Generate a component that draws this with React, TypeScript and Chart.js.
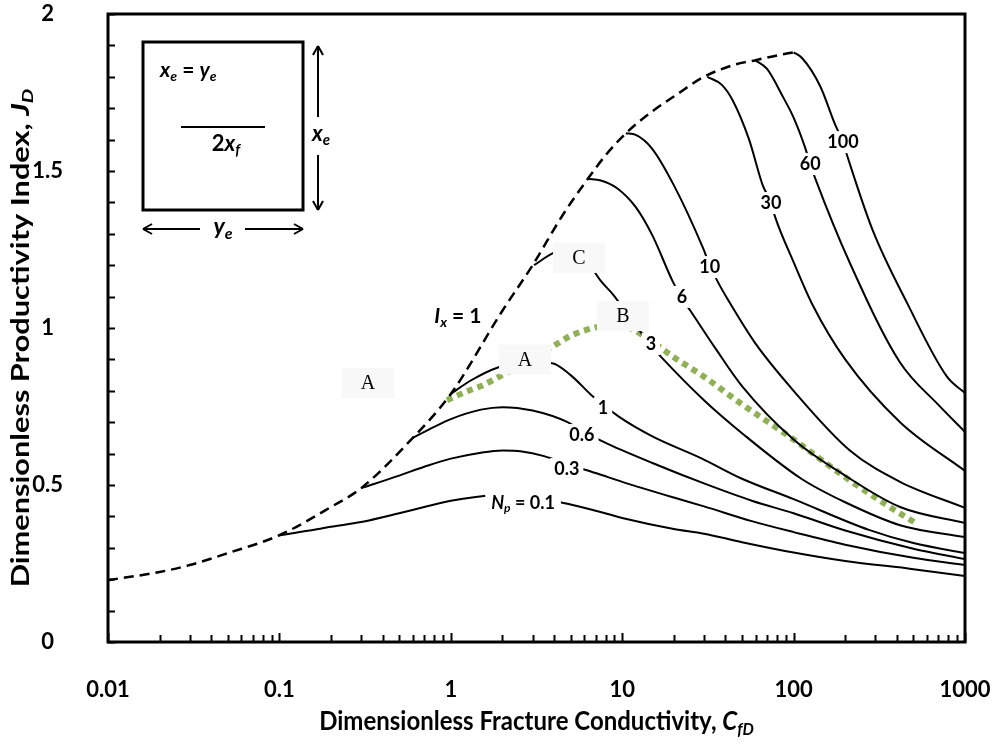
import React, { useEffect, useRef } from "react";
import { Chart, registerables } from "chart.js";
Chart.register(...registerables);

const FONT = "Lato";

// x-axis tick labels (decades) and y ticks
const xTickValues = [0.01, 0.1, 1, 10, 100, 1000];
const yMinorStep = 0.1;

// Ix = 1 envelope (dashed)
const envX = [0.01, 0.02, 0.03, 0.05, 0.1, 0.2, 0.3, 0.6, 1, 2, 3, 4.5, 6.3, 8, 10.5, 15, 20, 30, 45, 60, 80, 100];
const envY = [0.197, 0.223, 0.245, 0.283, 0.34, 0.43, 0.49, 0.65, 0.79, 1.055, 1.2, 1.36, 1.475, 1.55, 1.62, 1.69, 1.737, 1.8, 1.838, 1.853, 1.868, 1.878];

// Np curves
const np01X = [0.1, 0.15, 0.2, 0.3, 0.5, 0.7, 1, 1.4, 2, 3, 5, 7, 10, 20, 30, 50, 100, 200, 500, 1000];
const np01Y = [0.34, 0.355, 0.367, 0.382, 0.41, 0.43, 0.45, 0.462, 0.468, 0.462, 0.438, 0.418, 0.395, 0.36, 0.345, 0.318, 0.285, 0.258, 0.232, 0.21];

const np03X = [0.3, 0.5, 0.7, 1, 1.5, 2, 2.6, 3.5, 5, 7, 10, 20, 30, 57, 100, 200, 500, 1000];
const np03Y = [0.49, 0.53, 0.558, 0.584, 0.603, 0.61, 0.607, 0.592, 0.563, 0.538, 0.51, 0.46, 0.432, 0.385, 0.35, 0.31, 0.268, 0.245];

const np06X = [0.6, 0.8, 1, 1.5, 2, 3, 4.8, 6, 8.3, 15, 30, 57, 100, 200, 500, 1000];
const np06Y = [0.65, 0.685, 0.71, 0.74, 0.748, 0.737, 0.7, 0.668, 0.63, 0.57, 0.505, 0.45, 0.41, 0.355, 0.297, 0.264];

const np1X = [1, 1.3, 1.9, 2.7, 3.9, 5, 6.8, 9.6, 15, 29, 50, 100, 275, 500, 1000];
const np1Y = [0.79, 0.832, 0.875, 0.892, 0.888, 0.85, 0.78, 0.717, 0.655, 0.585, 0.52, 0.455, 0.357, 0.315, 0.283];

const np3X = [3.06, 4, 5, 6, 7.5, 8.9, 11, 14.7, 17.4, 30, 50, 111, 200, 418, 1000];
const np3Y = [1.2, 1.24, 1.252, 1.225, 1.15, 1.105, 1.035, 0.945, 0.9, 0.77, 0.665, 0.52, 0.445, 0.372, 0.334];

const np6X = [6.3, 7.5, 9.3, 12, 15, 19.8, 22.3, 25, 35, 50, 100, 200, 418, 1000];
const np6Y = [1.475, 1.47, 1.446, 1.385, 1.295, 1.146, 1.095, 1.055, 0.935, 0.815, 0.645, 0.53, 0.43, 0.379];

const np10X = [10.5, 12, 15, 20, 29.6, 32.4, 36.2, 41.4, 60, 100, 213, 418, 1000];
const np10Y = [1.62, 1.615, 1.57, 1.455, 1.255, 1.2, 1.146, 1.09, 0.95, 0.8, 0.61, 0.51, 0.427];

const np30X = [31.4, 38, 44, 55, 66, 73.8, 78, 100, 130, 200, 418, 1000];
const np30Y = [1.8, 1.775, 1.726, 1.6, 1.455, 1.4, 1.354, 1.21, 1.07, 0.9, 0.7, 0.545];

const np60X = [59.6, 70, 86.7, 100, 117, 125, 133, 213, 418, 700, 1000];
const np60Y = [1.853, 1.825, 1.736, 1.67, 1.573, 1.522, 1.48, 1.207, 0.89, 0.755, 0.669];

const np100X = [100, 112, 143, 174, 194, 205, 290, 459, 785, 1000];
const np100Y = [1.878, 1.86, 1.77, 1.65, 1.592, 1.55, 1.31, 1.08, 0.845, 0.793];

// green dotted path
const greenX = [0.95, 1.2, 1.5, 1.76, 2.5, 3.9, 5, 7.1, 9, 11, 14, 20, 30, 50, 100, 200, 350, 510];
const greenY = [0.77, 0.795, 0.815, 0.834, 0.88, 0.94, 0.975, 1.003, 1.01, 1.0, 0.968, 0.907, 0.845, 0.757, 0.645, 0.525, 0.436, 0.38];

// curve labels (white background)
const curveLabelText = ["1", "0.6", "0.3", "3", "6", "10", "30", "60", "100"];
const curveLabelX = [7.73, 5.82, 4.75, 14.7, 22.3, 32.4, 73.8, 125, 194];
const curveLabelY = [0.745, 0.659, 0.551, 0.949, 1.099, 1.194, 1.398, 1.522, 1.592];

// point labels A/B/C
const letterText = ["A", "A", "C", "B"];
const letterX = [0.329, 2.71, 5.6, 10.1];
const letterY = [0.825, 0.9, 1.223, 1.038];

// special labels
const npLabel = { x: 2.64, y: 0.443 };
const ixLabel = { x: 1.1, y: 1.038 };

type Seg = { t: string; it?: boolean; sub?: boolean };

function segFont(s: Seg, size: number, weight: string) {
  const sz = s.sub ? Math.round(size * 0.68) : size;
  return `${s.it ? "italic " : ""}${weight} ${sz}px ${FONT}`;
}
function richWidth(ctx: CanvasRenderingContext2D, segs: Seg[], size: number, weight = "bold") {
  let w = 0;
  for (const s of segs) {
    ctx.font = segFont(s, size, weight);
    w += ctx.measureText(s.t).width;
  }
  return w;
}
function drawRich(ctx: CanvasRenderingContext2D, segs: Seg[], x: number, y: number, size: number, align = "center", weight = "bold") {
  const total = richWidth(ctx, segs, size, weight);
  let cx = align === "center" ? x - total / 2 : align === "left" ? x : x - total;
  ctx.textAlign = "left";
  ctx.textBaseline = "middle";
  for (const s of segs) {
    ctx.font = segFont(s, size, weight);
    ctx.fillText(s.t, cx, s.sub ? y + size * 0.3 : y);
    cx += ctx.measureText(s.t).width;
  }
  return total;
}

function line(ctx: CanvasRenderingContext2D, x1: number, y1: number, x2: number, y2: number) {
  ctx.beginPath();
  ctx.moveTo(x1, y1);
  ctx.lineTo(x2, y2);
  ctx.stroke();
}

const annot = {
  id: "annot",
  beforeDraw(chart: any) {
    const ctx = chart.ctx;
    ctx.save();
    ctx.fillStyle = "#fff";
    ctx.fillRect(0, 0, chart.width, chart.height);
    ctx.restore();
  },
  afterDatasetsDraw(chart: any) {
    const ctx: CanvasRenderingContext2D = chart.ctx;
    const xs = chart.scales.x;
    const ys = chart.scales.y;
    const ca = chart.chartArea;
    ctx.save();
    ctx.fillStyle = "#000";
    ctx.strokeStyle = "#000";

    // letter boxes
    for (let i = 0; i < letterText.length; i++) {
      const px = xs.getPixelForValue(letterX[i]);
      const py = ys.getPixelForValue(letterY[i]);
      ctx.fillStyle = "#f8f8f8";
      ctx.fillRect(px - 26, py - 15, 52, 30);
      ctx.fillStyle = "#000";
      ctx.font = `20px "Liberation Serif"`;
      ctx.textAlign = "center";
      ctx.textBaseline = "middle";
      ctx.fillText(letterText[i], px, py + 1);
    }

    // curve labels
    for (let i = 0; i < curveLabelText.length; i++) {
      const px = xs.getPixelForValue(curveLabelX[i]);
      const py = ys.getPixelForValue(curveLabelY[i]);
      ctx.font = `bold 18px ${FONT}`;
      const w = ctx.measureText(curveLabelText[i]).width;
      ctx.fillStyle = "#fff";
      ctx.fillRect(px - w / 2 - 4, py - 11, w + 8, 22);
      ctx.fillStyle = "#000";
      ctx.textAlign = "center";
      ctx.textBaseline = "middle";
      ctx.fillText(curveLabelText[i], px, py);
    }
    // Np = 0.1
    {
      const segs: Seg[] = [{ t: "N", it: true }, { t: "p", it: true, sub: true }, { t: " = 0.1" }];
      const px = xs.getPixelForValue(npLabel.x);
      const py = ys.getPixelForValue(npLabel.y);
      const w = richWidth(ctx, segs, 18);
      ctx.fillStyle = "#fff";
      ctx.fillRect(px - w / 2 - 6, py - 12, w + 12, 26);
      ctx.fillStyle = "#000";
      drawRich(ctx, segs, px, py, 18);
    }
    // Ix = 1
    {
      const segs: Seg[] = [{ t: "I", it: true }, { t: "x", it: true, sub: true }, { t: " = 1" }];
      const px = xs.getPixelForValue(ixLabel.x);
      const py = ys.getPixelForValue(ixLabel.y);
      ctx.fillStyle = "#000";
      drawRich(ctx, segs, px, py, 21);
    }

    // inset schematic
    const L = ca.left, T = ca.top;
    const bx = L + 35, by = T + 28, bw = 160, bh = 168;
    ctx.lineWidth = 3;
    ctx.strokeRect(bx, by, bw, bh);
    ctx.fillStyle = "#000";
    drawRich(ctx, [{ t: "x", it: true }, { t: "e", it: true, sub: true }, { t: " = " }, { t: "y", it: true }, { t: "e", it: true, sub: true }], bx + 17, by + 28, 21, "left");
    ctx.lineWidth = 2;
    line(ctx, bx + 38, by + 85, bx + 122, by + 85);
    drawRich(ctx, [{ t: "2" }, { t: "x", it: true }, { t: "f", it: true, sub: true }], bx + 83, by + 102, 22);
    // vertical arrow
    const ax = bx + bw + 15;
    ctx.lineWidth = 2;
    line(ctx, ax, by + 4, ax, by + 75);
    line(ctx, ax, by + 113, ax, by + bh);
    line(ctx, ax - 5, by + 13, ax, by + 4);
    line(ctx, ax + 5, by + 13, ax, by + 4);
    line(ctx, ax - 5, by + bh - 9, ax, by + bh);
    line(ctx, ax + 5, by + bh - 9, ax, by + bh);
    drawRich(ctx, [{ t: "x", it: true }, { t: "e", it: true, sub: true }], ax + 3, by + 92, 22);
    // horizontal arrow
    const ay = by + bh + 19;
    line(ctx, bx, ay, bx + 57, ay);
    line(ctx, bx + 102, ay, bx + bw, ay);
    line(ctx, bx + 9, ay - 5, bx, ay);
    line(ctx, bx + 9, ay + 5, bx, ay);
    line(ctx, bx + bw - 9, ay - 5, bx + bw, ay);
    line(ctx, bx + bw - 9, ay + 5, bx + bw, ay);
    drawRich(ctx, [{ t: "y", it: true }, { t: "e", it: true, sub: true }], bx + 80, ay - 2, 23);

    // tick marks
    ctx.lineWidth = 2;
    for (let v = 0; v <= 2.0001; v += yMinorStep) {
      const py = Math.round(ys.getPixelForValue(v)) + 0.5;
      line(ctx, ca.left, py, ca.left + 7, py);
    }
    for (let d = 0; d < xTickValues.length; d++) {
      const dec = xTickValues[d];
      for (let k = 1; k <= 9; k++) {
        const v = dec * k;
        if (v > 1000.0001) break;
        const px = Math.round(xs.getPixelForValue(v)) + 0.5;
        line(ctx, px, ca.bottom, px, ca.bottom - (k === 1 ? 9 : 7));
      }
    }

    // frame
    ctx.lineWidth = 3;
    ctx.strokeRect(ca.left, ca.top, ca.right - ca.left, ca.bottom - ca.top);
    ctx.restore();
  },
  afterDraw(chart: any) {
    const ctx: CanvasRenderingContext2D = chart.ctx;
    const ca = chart.chartArea;
    ctx.save();
    ctx.fillStyle = "#000";
    ctx.save();
    ctx.translate((ca.left + ca.right) / 2, 721);
    ctx.scale(1, 1.12);
    drawRich(ctx, [{ t: "Dimensionless Fracture Conductivity, " }, { t: "C", it: true }, { t: "fD", it: true, sub: true }], 0, 0, 24);
    ctx.restore();
    ctx.translate(21, (ca.top + ca.bottom) / 2 + 10);
    ctx.rotate(-Math.PI / 2);
    ctx.scale(1.28, 1);
    drawRich(ctx, [{ t: "Dimensionless Productivity Index, " }, { t: "J", it: true }, { t: "D", it: true, sub: true }], 0, 0, 24);
    ctx.restore();
  },
};

export default function App() {
  const ref = useRef<HTMLCanvasElement>(null);
  useEffect(() => {
    const canvas = ref.current!;
    const mk = (xs: number[], ys: number[]) => xs.map((x, i) => ({ x, y: ys[i] }));
    const black = (label: string, xs: number[], ys: number[]) => ({
      label,
      data: mk(xs, ys),
      borderColor: "#000",
      borderWidth: 2,
      pointRadius: 0,
      fill: false,
      cubicInterpolationMode: "monotone" as const,
    });
    const datasets: any[] = [
      { ...black("Ix = 1", envX, envY), borderDash: [10, 6], borderWidth: 2.5 },
      black("Np = 0.1", np01X, np01Y),
      black("Np = 0.3", np03X, np03Y),
      black("Np = 0.6", np06X, np06Y),
      black("Np = 1", np1X, np1Y),
      black("Np = 3", np3X, np3Y),
      black("Np = 6", np6X, np6Y),
      black("Np = 10", np10X, np10Y),
      black("Np = 30", np30X, np30Y),
      black("Np = 60", np60X, np60Y),
      black("Np = 100", np100X, np100Y),
      {
        label: "path",
        data: mk(greenX, greenY),
        borderColor: "#8fb054",
        borderWidth: 6,
        borderDash: [6, 5],
        pointRadius: 0,
        fill: false,
        cubicInterpolationMode: "monotone",
      },
    ];
    const chart = new Chart(canvas, {
      type: "line",
      data: { datasets },
      options: {
        animation: false,
        responsive: false,
        devicePixelRatio: 1,
        layout: { padding: { left: 0, right: 30, top: 14, bottom: 0 } },
        plugins: { legend: { display: false }, tooltip: { enabled: false } },
        scales: {
          x: {
            type: "logarithmic",
            min: 0.01,
            max: 1000,
            grid: { display: false, drawTicks: false },
            border: { display: false },
            afterBuildTicks: (s: any) => {
              s.ticks = xTickValues.map((v) => ({ value: v }));
            },
            afterFit: (s: any) => {
              s.height = 103;
              s.paddingLeft = 0;
              s.paddingRight = 0;
            },
            ticks: {
              padding: 35,
              color: "#000",
              maxRotation: 0,
              autoSkip: false,
              font: { family: FONT, size: 22, weight: "bold" },
              callback: (v: any) => String(v),
            },
          },
          y: {
            min: 0,
            max: 2,
            grid: { display: false, drawTicks: false },
            border: { display: false },
            afterFit: (s: any) => {
              s.width = 108;
              s.paddingTop = 0;
              s.paddingBottom = 0;
            },
            ticks: {
              stepSize: 0.5,
              padding: 45,
              crossAlign: "center",
              color: "#000",
              font: { family: FONT, size: 22, weight: "bold" },
              callback: (v: any) => String(v),
            },
          },
        },
      } as any,
      plugins: [annot],
    });
    return () => chart.destroy();
  }, []);
  return <canvas ref={ref} width={995} height={745} style={{ position: "absolute", left: 0, top: 0, display: "block" }} />;
}
